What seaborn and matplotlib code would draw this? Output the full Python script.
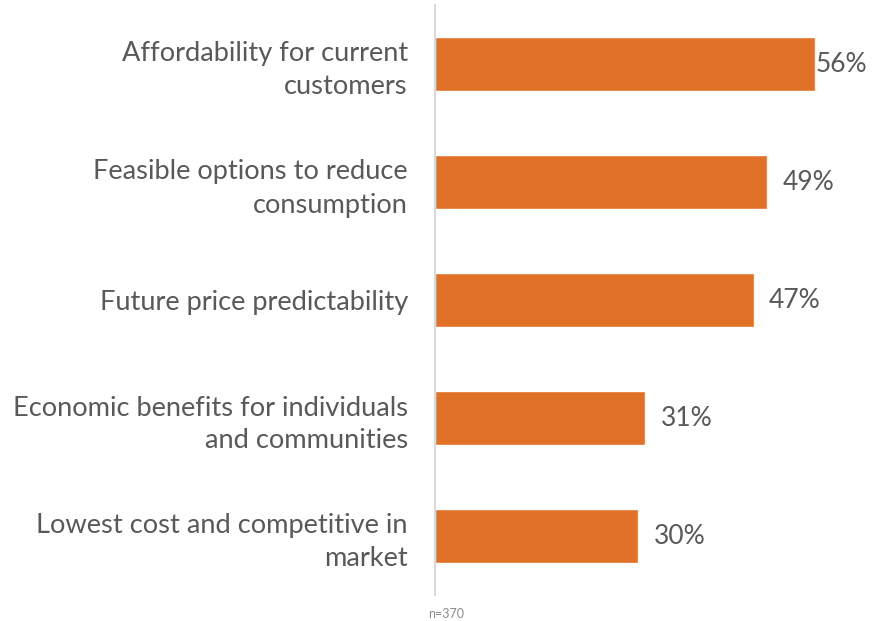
import matplotlib
matplotlib.use('Agg')
import matplotlib.pyplot as plt
import seaborn as sns
import pandas as pd

# data
kategori = [
    'Affordability for current\ncustomers',
    'Feasible options to reduce\nconsumption',
    'Future price predictability',
    'Economic benefits for individuals\nand communities',
    'Lowest cost and competitive in\nmarket',
]
persen = [56, 49, 47, 31, 30]
catatan = 'n=370'

df = pd.DataFrame({'Kategori': kategori, 'Persen': persen})

sns.set_theme(style='white')
plt.rcParams['font.family'] = ['Lato', 'DejaVu Sans']

warna_bar = '#E07126'
warna_teks = '#595959'

fig = plt.figure(figsize=(8.81, 6.21), dpi=100)
ax = fig.add_axes([435 / 881, 26 / 621, 1 - 435 / 881, 590 / 621])

sns.barplot(data=df, y='Kategori', x='Persen', color=warna_bar, saturation=1,
            width=0.45, ax=ax)

ax.set_xlim(0, 65.8)
ax.set_ylim(4.5, -0.5)
ax.set_xlabel('')
ax.set_ylabel('')
ax.set_xticks([])
ax.tick_params(axis='y', length=0, pad=19.5, labelsize=19.6, labelcolor=warna_teks)
for lbl in ax.get_yticklabels():
    lbl.set_horizontalalignment('right')
    lbl.set_multialignment('right')
    lbl.set_linespacing(1.4)

for s in ['top', 'right', 'bottom']:
    ax.spines[s].set_visible(False)
ax.spines['left'].set_color('#D9D9D9')
ax.spines['left'].set_linewidth(1.5)

# label persen di ujung bar
for i, v in enumerate(persen):
    pad = 1 if v == max(persen) else 11
    ax.annotate(f'{v}%', xy=(v, i), xytext=(pad, 0), textcoords='offset points',
                ha='left', va='center', fontsize=19, color=warna_teks)

fig.text(428 / 881, 1 - 614 / 621, catatan, ha='left', va='center',
         fontsize=9, color='#8C8C8C')

fig.savefig('out.png', dpi=100)
